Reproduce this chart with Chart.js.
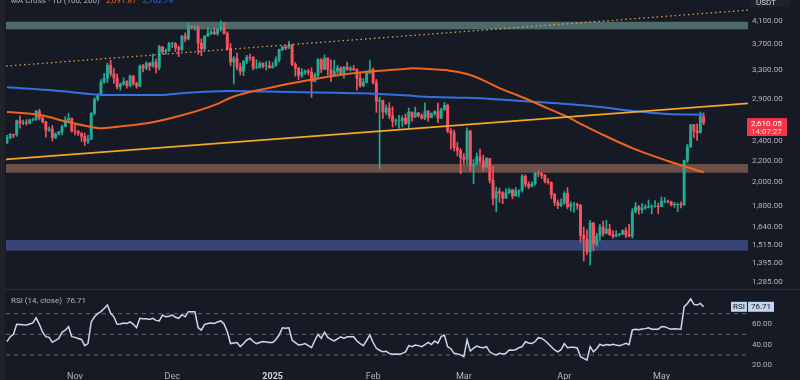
<!DOCTYPE html>
<html><head><meta charset="utf-8">
<script src="https://cdn.jsdelivr.net/npm/chart.js@4.4.1/dist/chart.umd.min.js"></script>
<style>
html,body{margin:0;padding:0;background:#161a25;width:800px;height:380px;overflow:hidden}
#wrap{position:relative;width:800px;height:380px;background:#161a25}
#main{position:absolute;left:0;top:0}
#rsi{position:absolute;left:0;top:290px}
#sep{position:absolute;left:0;top:289px;width:800px;height:1px;background:#2a2e39}
#lstrip{position:absolute;left:0;top:0;width:5px;height:380px;background:#1f2228}
</style></head><body>
<div id="wrap">
<canvas id="main" width="800" height="290"></canvas>
<div id="sep"></div>
<canvas id="rsi" width="800" height="90"></canvas>
<div id="lstrip"></div>
</div>
<script>
// ---- DATA (daily candles, index 0 = 2024-10-11 ... 215 = 2025-05-14) ----
const openP = [
2385,2440,2475,2470,2630,2605,2610,2605,2640,2645,2745,2665,2620,2525,2535,2440,2480,2505,2565,2640,2660,
2515,2510,2490,2455,2400,2425,2720,2895,2960,3125,3180,3370,3245,3185,3060,3095,3130,3075,3210,3105,3070,3355,3325,3395,3360,3415,3330,3655,3580,3590,
3705,3710,3645,3615,3835,3785,4000,3995,4005,3715,3625,3835,3880,3905,3875,3960,3985,3875,3625,3420,3470,3340,3280,3425,3490,3485,3330,3335,3395,3355,3355,
3335,3360,3450,3610,3655,3635,3685,3380,3325,3220,3265,3280,3265,3135,3225,3450,3310,3475,3305,3215,3280,3325,3245,3340,3305,3320,3305,3180,3075,3120,3250,
3300,3120,2870,2880,2735,2785,2690,2625,2630,2630,2660,2600,2735,2675,2725,2690,2660,2745,2670,2715,2740,2660,2765,2820,2515,2490,2335,2305,
2235,2215,2515,2150,2170,2240,2200,2140,2225,2020,1865,1920,1910,1865,1910,1935,1885,1925,1930,2055,1985,1965,1985,2085,2080,2065,2010,2000,1895,1830,1805,
1825,1905,1795,1815,1815,1805,1580,1555,1470,1670,1520,1575,1640,1595,1625,1585,1575,1585,1590,1615,1585,1575,1755,1795,1770,1785,1790,1795,1800,1800,
1795,1840,1840,1835,1810,1815,1815,1810,2205,2345,2585,2515,2495,2680];
const highP = [
2465,2485,2480,2640,2690,2640,2645,2650,2660,2755,2770,2680,2625,2560,2575,2495,2510,2580,2680,2720,2665,
2585,2520,2495,2490,2465,2730,2915,2970,3160,3250,3400,3445,3320,3240,3115,3185,3145,3225,3220,3125,3375,3380,3420,3410,3540,3460,3680,3660,3620,3730,
3730,3725,3670,3845,3890,4080,4020,4010,4010,3790,3840,3990,3945,3970,3965,4107,4070,3910,3710,3500,3555,3400,3440,3520,3540,3500,3450,3420,3405,3425,3430,
3410,3495,3620,3670,3675,3745,3700,3410,3335,3320,3300,3310,3330,3255,3470,3470,3525,3485,3450,3445,3365,3345,3350,3415,3350,3365,3315,3255,3175,3285,3440,
3325,3160,2920,2885,2825,2850,2800,2655,2695,2690,2710,2785,2735,2795,2730,2715,2850,2755,2725,2750,2845,2785,2855,2835,2540,2525,2390,2325,
2275,2550,2520,2215,2280,2320,2260,2235,2225,2150,1960,1950,1920,1945,1950,1940,1955,1935,2070,2070,2005,2005,2095,2105,2090,2070,2035,2005,1905,1850,1860,
1920,1955,1835,1830,1825,1815,1640,1620,1690,1675,1595,1660,1685,1690,1660,1615,1615,1595,1620,1635,1660,1780,1830,1805,1820,1810,1850,1810,1845,1825,
1875,1870,1850,1840,1830,1825,1835,2210,2370,2590,2590,2595,2735,2725];
const lowP = [
2380,2430,2440,2455,2545,2585,2580,2595,2630,2635,2640,2605,2445,2510,2405,2430,2470,2470,2560,2625,2500,
2470,2465,2400,2355,2375,2420,2705,2875,2955,3110,3120,3210,3110,3030,3015,3085,3040,3060,3080,3040,3060,3270,3300,3290,3340,3255,3300,3545,3535,3580,
3640,3580,3500,3590,3740,3770,3960,3935,3540,3515,3600,3830,3860,3860,3845,3920,3870,3600,3360,3100,3300,3225,3215,3390,3440,3300,3315,3325,3330,3300,3320,
3325,3355,3420,3590,3610,3630,3360,3210,3160,3190,3235,3225,2920,3130,3185,3260,3300,3225,3130,3205,3220,3235,3180,3290,3285,3290,3015,3055,3060,3115,3250,
3100,2730,2120,2660,2705,2655,2560,2580,2545,2560,2585,2550,2625,2670,2675,2650,2645,2625,2665,2695,2610,2655,2755,2495,2320,2300,2250,2080,
2170,2170,2105,1990,2160,2170,2105,2130,1995,1810,1755,1830,1820,1860,1905,1860,1880,1875,1915,1960,1945,1960,1975,2050,2035,1995,1985,1860,1805,1780,1795,
1815,1780,1760,1750,1775,1535,1410,1450,1385,1475,1505,1545,1575,1590,1580,1560,1570,1575,1585,1565,1570,1560,1745,1735,1745,1775,1785,1740,1790,1740,
1795,1825,1825,1800,1790,1755,1785,1805,2185,2335,2440,2410,2490,2585];
const closeP = [
2440,2475,2470,2630,2605,2610,2605,2640,2645,2745,2665,2620,2525,2535,2440,2480,2505,2565,2640,2660,2515,
2510,2490,2455,2400,2425,2720,2895,2960,3125,3180,3370,3245,3185,3060,3095,3130,3075,3210,3105,3070,3355,3325,3395,3360,3415,3330,3655,3580,3590,3705,
3710,3645,3615,3835,3785,4000,3995,4005,3715,3625,3835,3880,3905,3875,3960,3985,3875,3625,3420,3470,3340,3280,3425,3490,3485,3330,3335,3395,3355,3355,3335,
3360,3450,3610,3655,3635,3685,3380,3325,3220,3265,3280,3265,3135,3225,3450,3310,3475,3305,3215,3280,3325,3245,3340,3305,3320,3305,3180,3075,3120,3250,3300,
3120,2870,2880,2735,2785,2690,2625,2630,2630,2660,2600,2735,2675,2725,2690,2660,2745,2670,2715,2740,2660,2765,2820,2515,2490,2335,2305,2235,
2215,2515,2150,2170,2240,2200,2140,2225,2020,1865,1920,1910,1865,1910,1935,1885,1925,1930,2055,1985,1965,1985,2085,2080,2065,2010,2000,1895,1830,1805,1825,
1905,1795,1815,1815,1805,1580,1555,1470,1670,1520,1575,1640,1595,1625,1585,1575,1585,1590,1615,1585,1575,1755,1795,1770,1785,1790,1795,1800,1800,1795,
1840,1840,1835,1810,1815,1815,1810,2205,2345,2585,2515,2495,2680,2610];
const rsiValues = [
42.8,47.7,50,59.7,59.5,59.2,59,60,61,66,
59.7,52,47.7,47,42.2,44,46,52,54,57.4,
47.7,47,46,45,39,41,62,67,70,72,
75,78.4,70.4,67,59.7,60,61,60.5,62,59.7,
56.4,65.5,65,65,64.5,65.5,63.5,63,68.7,67,
67.5,68.7,66.5,65.5,69,67,72,72,72,56.4,
54,59.7,60.5,61,60.5,62,63,60,52.5,41,
41.5,42,38,41,44.5,46,43,41,42,43,
42.5,42,42,45,49.3,56.4,56,56.4,44.5,42,
39.6,40,41,39,37,44,50,46,52,47,
45,43.5,45.5,47.5,46,47.6,47.6,47.6,43.5,41,
39,44,49.3,42,36.4,34.5,33,33.5,31.5,30.6,
30.8,30.7,31.5,33,39,38,39.6,39,38,40,
42.2,40,43.5,41.5,47.7,49.3,38,36,31.5,31,
30,28.3,44.5,33.8,36.5,38.5,37.5,37,38,33,
31,30,31.5,31,31.5,34.8,34.5,35,37,38,
42.8,41.5,41,43,46.7,46,44,41,38,34.8,
33,35,41,37,37.5,37.5,36.7,28.3,26.7,25,
38,33,36,40.3,39,40,39.5,40.3,39.5,39,
40,41.3,40,54.2,55,54.5,55.1,55.5,56.4,55,
55,55,57.4,57.4,56,55,55.3,55.2,55,76.8,
80,84.3,79,78.4,80,76.71];
// moving averages (day index, value)
const ma100Days = [0,10.2,18.5,25.6,28.7,34,44.1,54.3,64.8,69.8,80.2,90.4,100.6,111.1,121.3,125.3,131.5,136.7,142,146.9,152.2,157.4,162.3,167.6,172.8,177.8,183,193.2,203.7,215];
const ma100Values = [2735,2699,2619,2562,2544,2562,2608,2699,2834,2928,3039,3130,3210,3272,3307,3322,3307,3287,3239,3153,3039,2950,2863,2768,2679,2581,2488,2327,2203,2092];
const ma200Days = [0,13,26.5,29,47,55.5,68,80,109,121.3,131.5,142,152.2,162.3,172.8,183,193.2,203.7,215];
const ma200Values = [3053,3016,2959,2950,2950,2980,3003,2997,2972,2950,2924,2915,2892,2863,2834,2797,2747,2711,2703];
// trend channel end points
const channelDays = [-0.3, 228.7];
const channelLower = [2215, 2842];
const channelUpper = [3355, 4304];
// horizontal zones
const zoneLow = [3951, 2088, 1476];
const zoneHigh = [4087, 2170, 1548];
// ticks
const priceTicks = [4100,3700,3300,2900,2400,2200,2000,1800,1640,1515,1395,1285];
const rsiTicks = [60,40,20];
const rsiLevels = [70,50,30];
const monthTickDays = [21,51,82,113,141,172,202];
const monthTickLabels = ['Nov','Dec','2025','Feb','Mar','Apr','May'];
const ma100Last = 2091.87, ma200Last = 2702.79, lastPrice = 2610.05, lastRsi = 76.71;

// ---- styles ----
const FONT = "Roboto, 'Noto Sans', sans-serif";
const GREEN = '#22ab94', RED = '#f7525f';
const zoneColors = ['#4f6a6b', '#6b5049', '#374475'];
const XMIN = -0.3, XMAX = 228.7;
const dayIdx = closeP.map((_, i) => i);
const candleColors = dayIdx.map(i => closeP[i] >= openP[i] ? GREEN : RED);
const fmt = v => v.toLocaleString('en-US', {minimumFractionDigits: 2, maximumFractionDigits: 2});
const noPad = s => { s.paddingTop = 0; s.paddingBottom = 0; s.paddingLeft = 0; s.paddingRight = 0; };

const zonesPlugin = {
  id: 'zones',
  beforeDatasetsDraw(chart) {
    const {ctx, chartArea: a, scales: {y}} = chart;
    ctx.save();
    zoneLow.forEach((lo, i) => {
      const y1 = y.getPixelForValue(zoneHigh[i]);
      const y2 = y.getPixelForValue(lo);
      ctx.fillStyle = zoneColors[i];
      ctx.fillRect(a.left, y1, a.right - a.left, y2 - y1);
    });
    ctx.restore();
  }
};

const mainOverlay = {
  id: 'mainOverlay',
  afterDraw(chart) {
    const {ctx, scales: {y}} = chart;
    ctx.save();
    ctx.font = '8px ' + FONT;
    ctx.textBaseline = 'alphabetic';
    let x = 11;
    const parts = [['MA Cross · 1D (100, 200)', '#b2b5be'], [fmt(ma100Last), '#f0641e'], [fmt(ma200Last), '#3570e0']];
    parts.forEach(([t, c]) => { ctx.fillStyle = c; ctx.fillText(t, x, 3); x += ctx.measureText(t).width + 6; });
    ctx.fillStyle = '#1e222d';
    ctx.fillRect(750, 0, 40, 7);
    ctx.fillStyle = '#d1d4dc';
    ctx.fillText('USDT', 756, 5);
    const yc = y.getPixelForValue(lastPrice);
    ctx.fillStyle = '#f23645';
    ctx.fillRect(747, yc - 4.5, 40, 18);
    ctx.textBaseline = 'middle';
    ctx.fillStyle = '#ffffff';
    ctx.fillText(fmt(lastPrice), 751, yc + 1);
    ctx.fillStyle = '#fbd5d8';
    ctx.fillText('14:07:27', 751, yc + 9.3);
    ctx.restore();
  }
};

const rsiOverlay = {
  id: 'rsiOverlay',
  afterDraw(chart) {
    const {ctx, scales: {y}} = chart;
    ctx.save();
    ctx.font = '8px ' + FONT;
    ctx.textBaseline = 'middle';
    ctx.fillStyle = '#b2b5be';
    const t = 'RSI (14, close)';
    ctx.fillText(t, 11, 10.5);
    ctx.fillText(lastRsi.toFixed(2), 11 + ctx.measureText(t).width + 4, 10.5);
    const yc = y.getPixelForValue(lastRsi);
    ctx.fillStyle = '#c3d4ef';
    ctx.fillRect(731, yc - 5, 16, 10);
    ctx.fillRect(748, yc - 5, 26, 10);
    ctx.fillStyle = '#131722';
    ctx.fillText('RSI', 733, yc + 0.5);
    ctx.fillText(lastRsi.toFixed(2), 751, yc + 0.5);
    ctx.restore();
  }
};

Chart.defaults.font.family = FONT;

new Chart(document.getElementById('main'), {
  type: 'bar',
  data: {
    datasets: [
      { type: 'line', data: channelDays.map((d, i) => ({x: d, y: channelUpper[i]})), borderColor: '#d9a24a', borderWidth: 1.3, borderDash: [1.5, 3], pointRadius: 0, order: 0 },
      { type: 'line', data: channelDays.map((d, i) => ({x: d, y: channelLower[i]})), borderColor: '#f5a623', borderWidth: 1.8, pointRadius: 0, order: 0 },
      { type: 'line', data: ma100Days.map((d, i) => ({x: d, y: ma100Values[i]})), borderColor: '#f0641e', borderWidth: 2, pointRadius: 0, cubicInterpolationMode: 'monotone', order: 0 },
      { type: 'line', data: ma200Days.map((d, i) => ({x: d, y: ma200Values[i]})), borderColor: '#3570e0', borderWidth: 2, pointRadius: 0, cubicInterpolationMode: 'monotone', order: 0 },
      { type: 'bar', data: dayIdx.map(i => ({x: i, y: [openP[i], closeP[i]]})), backgroundColor: candleColors, barThickness: 2.3, grouped: false, order: 1 },
      { type: 'bar', data: dayIdx.map(i => ({x: i, y: [lowP[i], highP[i]]})), backgroundColor: candleColors, barThickness: 1, grouped: false, order: 2 }
    ]
  },
  options: {
    responsive: false, animation: false, devicePixelRatio: 1,
    layout: { padding: { left: 6, top: 0, right: 0, bottom: 0 } },
    plugins: { legend: { display: false }, tooltip: { enabled: false } },
    scales: {
      x: { type: 'linear', min: XMIN, max: XMAX, offset: false, display: false },
      y: {
        type: 'logarithmic', position: 'right', min: 1239.5, max: 4502, bounds: 'data',
        grid: { display: false, drawTicks: false }, border: { display: false },
        afterBuildTicks: s => { s.ticks = priceTicks.map(v => ({value: v})); },
        afterFit: s => { s.width = 52; noPad(s); },
        ticks: { autoSkip: false, padding: 4, color: '#b2b5be', font: { size: 8, family: FONT }, callback: v => fmt(v) }
      }
    }
  },
  plugins: [zonesPlugin, mainOverlay]
});

new Chart(document.getElementById('rsi'), {
  type: 'line',
  data: {
    datasets: [
      { data: dayIdx.map(i => ({x: i, y: rsiValues[i]})), borderColor: '#cdd8ea', borderWidth: 1.5, pointRadius: 0, tension: 0, order: 0 },
      ...rsiLevels.map(lv => ({ data: [{x: XMIN, y: lv}, {x: XMAX, y: lv}], borderColor: '#686b76', borderWidth: 1, borderDash: [4, 4], pointRadius: 0, order: 1 }))
    ]
  },
  options: {
    responsive: false, animation: false, devicePixelRatio: 1,
    layout: { padding: { left: 6, top: 1, right: 0, bottom: 0 } },
    plugins: { legend: { display: false }, tooltip: { enabled: false } },
    scales: {
      x: {
        type: 'linear', min: XMIN, max: XMAX, offset: false, position: 'bottom',
        grid: { display: false, drawTicks: false }, border: { display: false },
        afterBuildTicks: s => { s.ticks = monthTickDays.map(v => ({value: v})); },
        afterFit: s => { s.height = 10; noPad(s); },
        ticks: {
          autoSkip: false, maxRotation: 0, padding: 1,
          color: ctx => (ctx.tick && ctx.tick.value === 82) ? '#d1d4dc' : '#b2b5be',
          font: ctx => ({ size: 9, family: FONT, weight: (ctx.tick && ctx.tick.value === 82) ? 'bold' : 'normal' }),
          callback: v => monthTickLabels[monthTickDays.indexOf(v)]
        }
      },
      y: {
        type: 'linear', position: 'right', min: 15.34, max: 92.04, bounds: 'data',
        grid: { display: false, drawTicks: false }, border: { display: false },
        afterBuildTicks: s => { s.ticks = rsiTicks.map(v => ({value: v})); },
        afterFit: s => { s.width = 52; noPad(s); },
        ticks: { autoSkip: false, padding: 4, color: '#b2b5be', font: { size: 8, family: FONT }, callback: v => v.toFixed(2) }
      }
    }
  },
  plugins: [rsiOverlay]
});
</script>
</body></html>
